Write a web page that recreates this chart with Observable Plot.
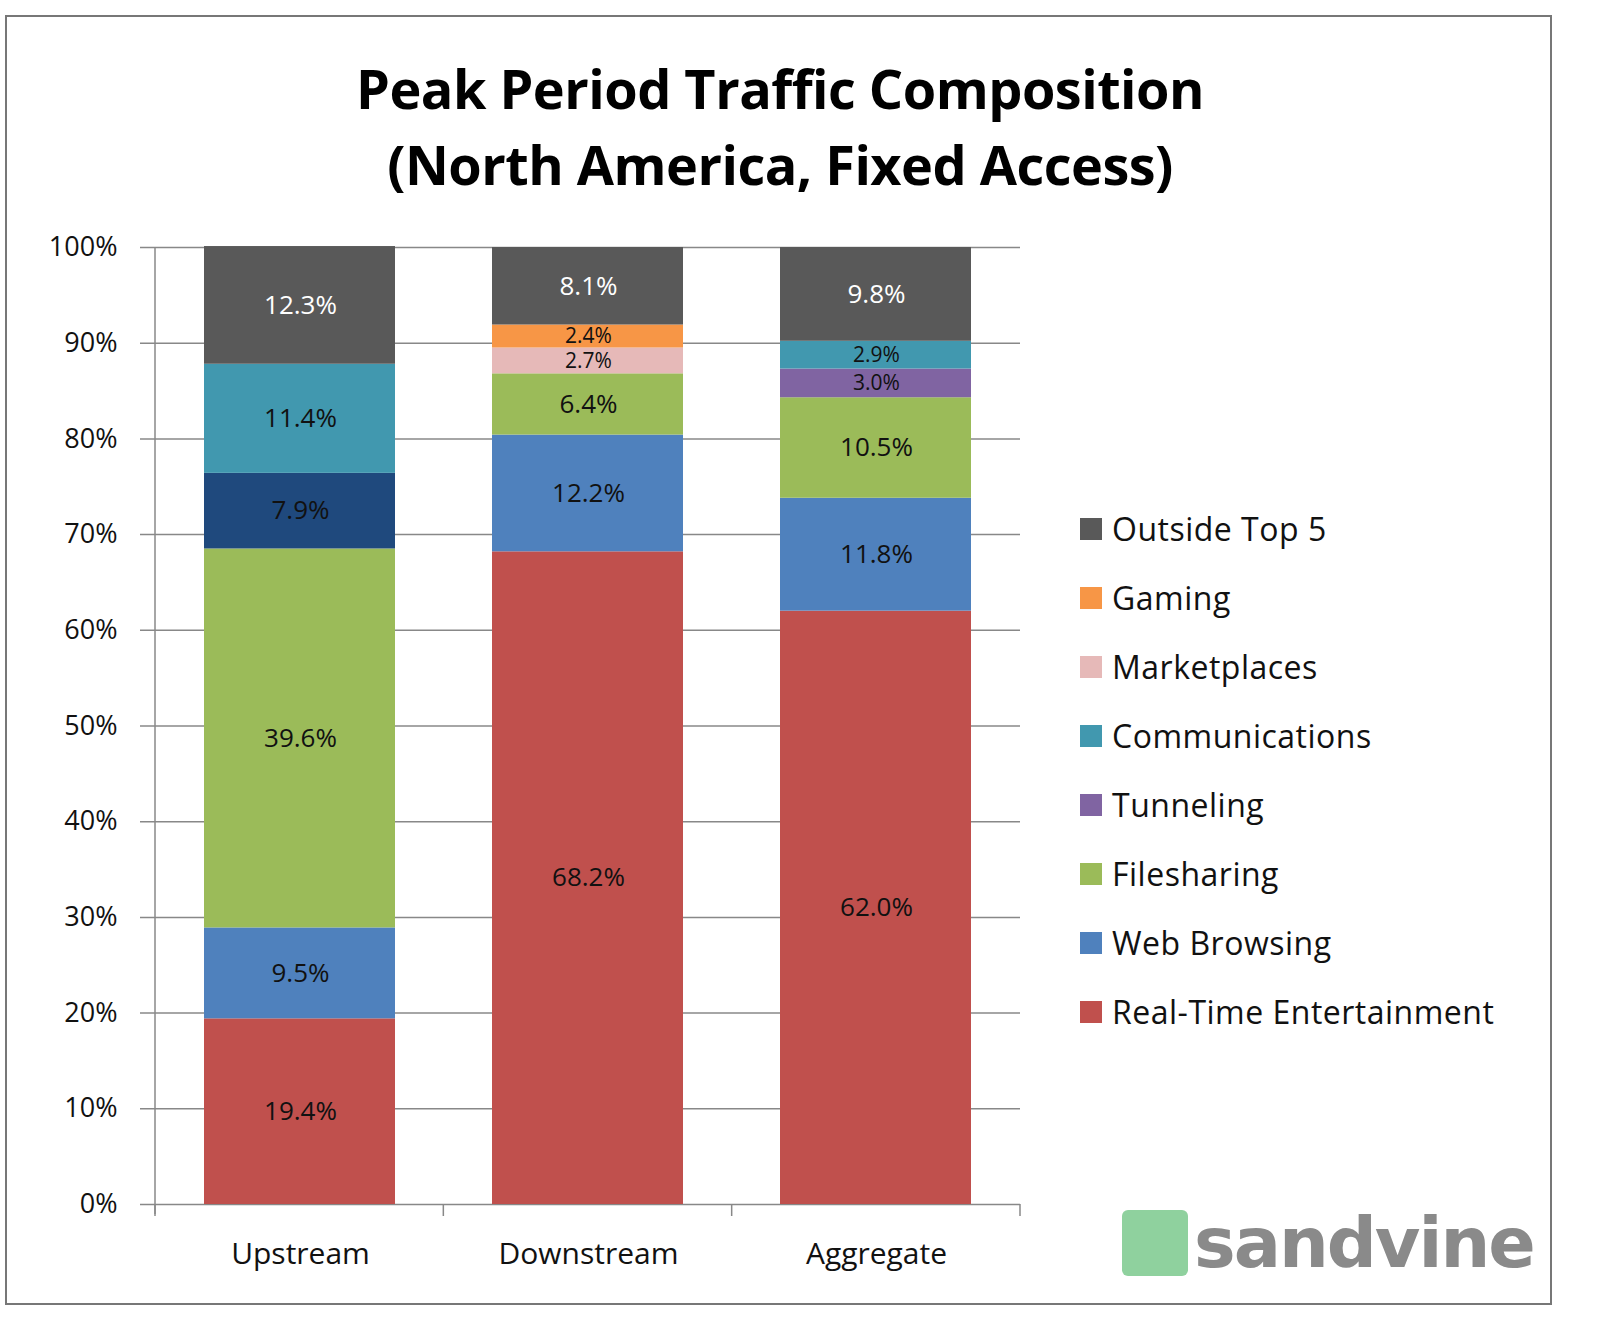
<!DOCTYPE html>
<html><head><meta charset="utf-8">
<script src="https://cdn.jsdelivr.net/npm/d3@7"></script>
<script src="https://cdn.jsdelivr.net/npm/@observablehq/plot@0.6"></script>
<style>
body{margin:0;background:#fff;font-family:"Open Sans",sans-serif;}
#wrap{position:relative;width:1600px;height:1337px;}
#frame{position:absolute;left:5px;top:15px;width:1547px;height:1290px;border:2px solid #777;box-sizing:border-box;}
#title{position:absolute;left:0;width:1560px;top:50px;text-align:center;font-family:"Open Sans",sans-serif;font-weight:700;font-size:54px;line-height:76px;color:#000;letter-spacing:-0.5px}
#chart{position:absolute;left:0;top:0;}
#legend{position:absolute;left:1080px;top:494px;font-size:32px;color:#111;letter-spacing:0.5px}
.li{display:flex;align-items:center;height:69px;}
.sw{width:22px;height:22px;margin-right:10px;}
#logo{position:absolute;left:1122px;top:1208px;display:flex;align-items:center;}
#logo .box{width:66px;height:66px;background:#8fd19e;border-radius:6px;margin-right:6px;}
#logo span{font-size:70px;font-weight:700;color:#8a8a8a;font-family:"DejaVu Sans",sans-serif;letter-spacing:-2px;line-height:70px}
</style></head><body>
<div id="wrap">
<div id="frame"></div>
<div id="chart"></div>
<div id="title">Peak Period Traffic Composition<br>(North America, Fixed Access)</div>
<div id="legend"></div>
<div id="logo"><div class="box"></div><span>sandvine</span></div>
</div>
<script>
const directions = ["Upstream","Downstream","Aggregate"];
const categories = ["Real-Time Entertainment","Web Browsing","Filesharing","Storage","Tunneling","Communications","Marketplaces","Gaming","Outside Top 5"];
const colors = ["#C0504D","#4F81BD","#9BBB59","#1F497D","#8064A2","#4198AF","#E6B9B8","#F79646","#595959"];
const legendCats = ["Outside Top 5","Gaming","Marketplaces","Communications","Tunneling","Filesharing","Web Browsing","Real-Time Entertainment"];
const upstream   = [19.4, 9.5, 39.6, 7.9, 0, 11.4, 0, 0, 12.3];
const downstream = [68.2, 12.2, 6.4, 0, 0, 0, 2.7, 2.4, 8.1];
const aggregate  = [62.0, 11.8, 10.5, 0, 3.0, 2.9, 0, 0, 9.8];
const yTicks = [0,10,20,30,40,50,60,70,80,90,100];

const series = [upstream, downstream, aggregate];
const data = [];
directions.forEach((d,i)=>categories.forEach((c,j)=>{ if(series[i][j]>0) data.push({dir:d,cat:c,v:series[i][j]}); }));

const stackOpts = {x:"dir", y:"v", z:"cat", order: categories};
const plot = Plot.plot({
  width:1600, height:1337,
  marginLeft:155, marginRight:580, marginTop:247, marginBottom:133,
  style:{fontFamily:"Open Sans, sans-serif", background:"transparent"},
  x:{domain:directions, padding:0, label:null, axis:null},
  y:{domain:[0,100], label:null, axis:null},
  color:{domain:categories, range:colors},
  marks:[
    Plot.ruleY(yTicks,{stroke:"#888", strokeWidth:1.5, insetLeft:-15}),
    Plot.barY(data, Plot.stackY({...stackOpts, fill:"cat", insetLeft:48, insetRight:49})),
    Plot.text(data, Plot.stackY({...stackOpts, text:d=>d.v>=4?d.v.toFixed(1)+"%":"", fill:d=>d.cat==="Outside Top 5"?"#fff":"#111", fontSize:26, letterSpacing:1})),
    Plot.text(data, Plot.stackY({...stackOpts, text:d=>d.v<4?d.v.toFixed(1)+"%":"", fill:"#111", fontSize:21, letterSpacing:1})),
    Plot.text(yTicks,{y:d=>d, text:d=>d+"%", frameAnchor:"left", dx:-38, textAnchor:"end", fontSize:27, fill:"#111"}),
    Plot.text(directions,{x:d=>d, y:0, text:d=>d, dy:50, fontSize:30, fill:"#111", letterSpacing:1})
  ]
});
document.getElementById("chart").append(plot);
const svg = d3.select(plot);
const ys = plot.scale("y");
svg.append("line").attr("x1",155).attr("x2",155).attr("y1",ys.apply(100)).attr("y2",ys.apply(0)+10).attr("stroke","#888").attr("stroke-width",1.5);
const step = (1020-155)/3;
[0,1,2,3].forEach(i=>svg.append("line").attr("x1",155+i*step).attr("x2",155+i*step).attr("y1",ys.apply(0)).attr("y2",ys.apply(0)+12).attr("stroke","#888").attr("stroke-width",1.5));
const lg = document.getElementById("legend");
legendCats.forEach(c=>{
  const el=document.createElement("div"); el.className="li";
  el.innerHTML=`<div class="sw" style="background:${colors[categories.indexOf(c)]}"></div><span>${c}</span>`;
  lg.append(el);
});
</script>
</body></html>
